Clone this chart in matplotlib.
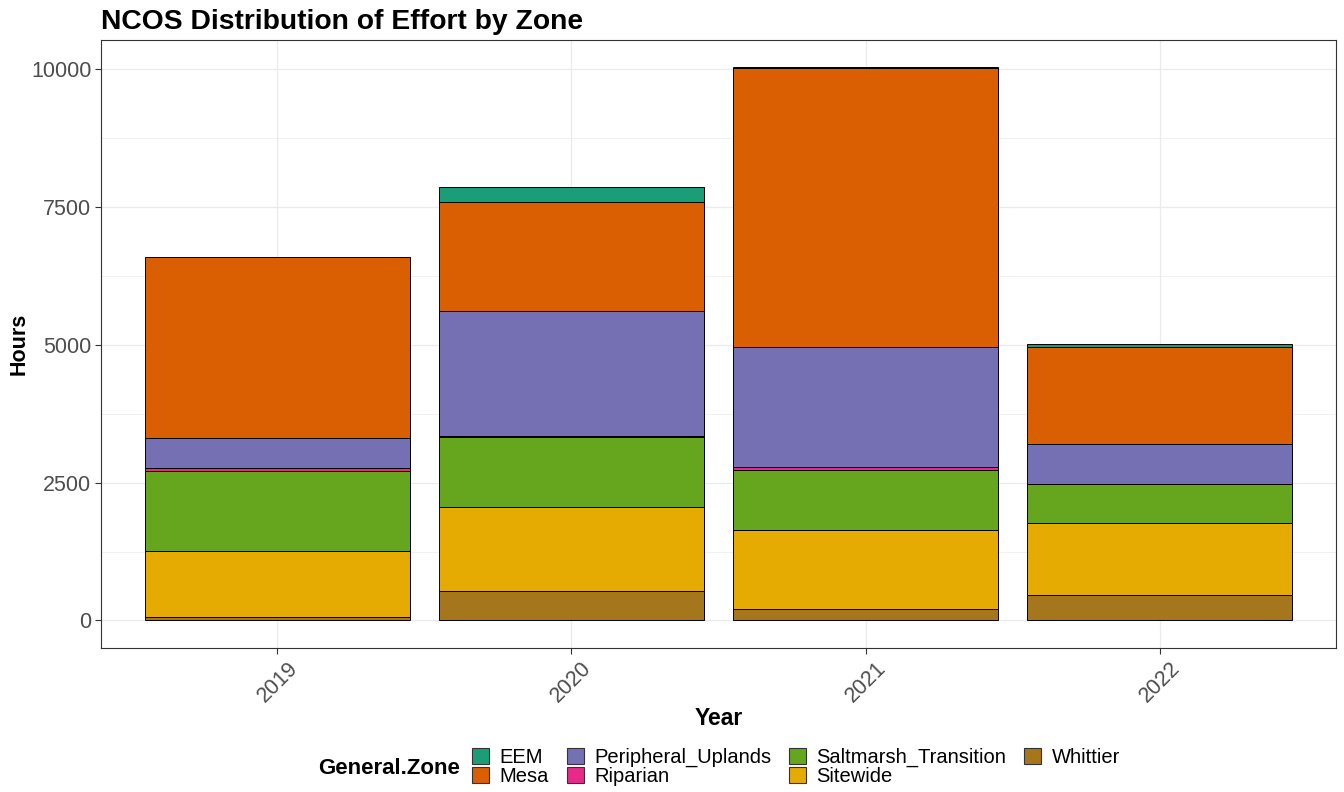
import numpy as np
import matplotlib.pyplot as plt
from matplotlib.patches import Patch

plt.rcParams['font.family'] = ['Liberation Sans', 'DejaVu Sans']

years = ['2019', '2020', '2021', '2022']

# hours per zone, stacked bottom to top
whittier = [70, 534, 203, 462]
sitewide = [1184, 1522, 1431, 1299]
saltmarsh = [1449, 1263, 1093, 706]
riparian = [54, 29, 54, 10]
peripheral = [555, 2272, 2174, 726]
mesa = [3273, 1974, 5060, 1764]
eem = [0, 259, 15, 42]

zones = ['EEM', 'Mesa', 'Peripheral_Uplands', 'Riparian',
         'Saltmarsh_Transition', 'Sitewide', 'Whittier']
colors = ['#1B9E77', '#D95F02', '#7570B3', '#E7298A',
          '#66A61E', '#E6AB02', '#A6761D']
stack = [whittier, sitewide, saltmarsh, riparian, peripheral, mesa, eem]

fig = plt.figure(figsize=(13.44, 7.92), dpi=100)
ax = fig.add_axes([101 / 1344, 1 - 648 / 792, 1235 / 1344, 608 / 792])

x = np.arange(len(years))
bottom = np.zeros(len(years))
for vals, col in zip(stack, colors[::-1]):
    ax.bar(x, vals, width=0.9, bottom=bottom, color=col,
           edgecolor='black', linewidth=0.7, zorder=3)
    bottom += np.array(vals)

ax.set_xlim(-0.6, 3.6)
ax.set_ylim(-499, 10526)
ax.set_xticks(x)
ax.set_xticklabels(years, rotation=45, ha='center', va='top')
ax.set_yticks([0, 2500, 5000, 7500, 10000])
ax.set_yticks([1250, 3750, 6250, 8750], minor=True)
ax.tick_params(axis='both', which='major', labelsize=15.5, labelcolor='#4D4D4D',
               color='#333333', length=4, width=0.8, pad=3)
ax.tick_params(axis='y', which='minor', length=0)
ax.grid(which='major', color='#EBEBEB', linewidth=0.9, zorder=0)
ax.grid(which='minor', axis='y', color='#EBEBEB', linewidth=0.5, zorder=0)
ax.set_axisbelow(True)
for sp in ax.spines.values():
    sp.set_color('#333333')
    sp.set_linewidth(0.8)

ax.set_xlabel('Year', fontsize=16.5, fontweight='bold', labelpad=0)
ax.set_ylabel('Hours', fontsize=15.5, fontweight='bold', labelpad=1)
ax.set_title('NCOS Distribution of Effort by Zone', fontsize=20.3,
             fontweight='bold', loc='left', x=0, pad=8)

handles = [Patch(facecolor=c, edgecolor='#333333', linewidth=0.8) for c in colors]
fig.text(318 / 1344, 1 - 768 / 792, 'General.Zone', fontsize=16,
         fontweight='bold', va='center', ha='left')
fig.legend(handles, zones, ncol=4, loc='center left',
           bbox_to_anchor=(472 / 1344, 1 - 767 / 792), frameon=False,
           fontsize=14.5, handlelength=0.85, handleheight=0.85,
           handletextpad=0.5, columnspacing=0.9, labelspacing=0.0,
           borderpad=0, borderaxespad=0)

fig.savefig('out.png', dpi=100)
